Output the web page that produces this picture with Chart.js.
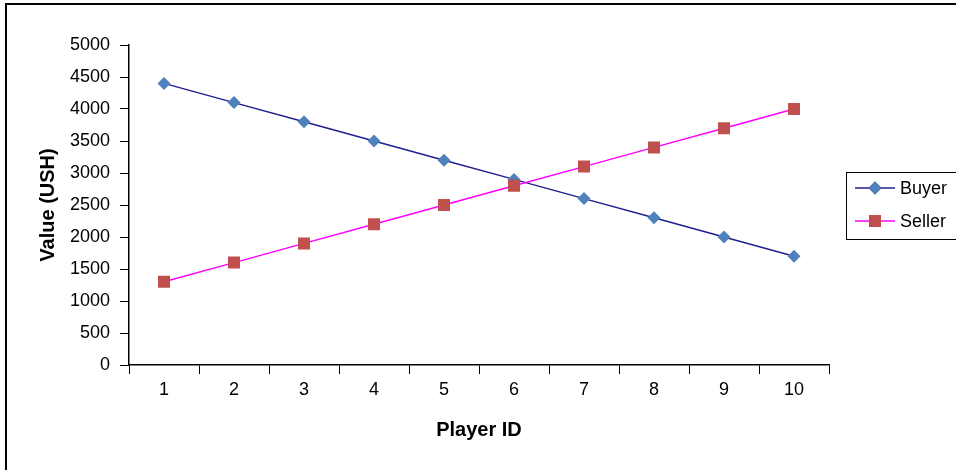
<!DOCTYPE html>
<html>
<head>
<meta charset="utf-8">
<script src="https://cdn.jsdelivr.net/npm/chart.js@4/dist/chart.umd.min.js"></script>
<style>
  html, body { margin: 0; padding: 0; background: #fff; }
  #wrap { width: 956px; height: 470px; }
</style>
</head>
<body>
<div id="wrap"><canvas id="grafico" width="956" height="470"></canvas></div>
<script>
const jugadores = ["1", "2", "3", "4", "5", "6", "7", "8", "9", "10"];
const comprador = [4400, 4100, 3800, 3500, 3200, 2900, 2600, 2300, 2000, 1700];
const vendedor = [1300, 1600, 1900, 2200, 2500, 2800, 3100, 3400, 3700, 4000];
const nombresSeries = ["Buyer", "Seller"];
const tituloY = "Value (USH)";
const tituloX = "Player ID";

const fuente = "'Liberation Sans', Arial, sans-serif";

// marco y leyenda al estilo Excel
const marcoLeyenda = {
  id: "marcoLeyenda",
  beforeDraw(chart) {
    const ctx = chart.ctx;
    ctx.save();
    ctx.fillStyle = "#fff";
    ctx.fillRect(0, 0, chart.width, chart.height);
    ctx.strokeStyle = "#000";
    ctx.lineWidth = 2;
    ctx.beginPath();
    ctx.moveTo(6, chart.height);
    ctx.lineTo(6, 4);
    ctx.lineTo(chart.width, 4);
    ctx.stroke();
    ctx.restore();
  },
  afterDraw(chart) {
    const ctx = chart.ctx;
    ctx.save();
    ctx.strokeStyle = "#000";
    ctx.lineWidth = 1;
    ctx.strokeRect(846.5, 172.5, 120, 67);
    ctx.font = "18px " + fuente;
    ctx.textBaseline = "middle";
    chart.data.datasets.slice().sort((a, b) => a.legendIdx - b.legendIdx).forEach((ds, i) => {
      const y = 188 + i * 33;
      ctx.strokeStyle = ds.borderColor;
      ctx.lineWidth = 1.5;
      ctx.beginPath();
      ctx.moveTo(855, y);
      ctx.lineTo(895, y);
      ctx.stroke();
      Chart.helpers.drawPoint(ctx, {
        pointStyle: ds.pointStyle,
        radius: ds.pointRadius,
        rotation: 0,
        borderWidth: 0
      }, 875, y);
      ctx.fillStyle = ds.pointBackgroundColor;
      ctx.fill();
      ctx.fillStyle = "#000";
      ctx.fillText(ds.label, 900, y + 1);
    });
    ctx.restore();
  }
};

new Chart(document.getElementById("grafico"), {
  type: "line",
  data: {
    labels: jugadores,
    datasets: [
      {
        label: nombresSeries[1],
        legendIdx: 1,
        order: 0,
        data: vendedor,
        borderColor: "#ff00ff",
        borderWidth: 1.5,
        pointStyle: "rect",
        pointRadius: 8.5,
        pointBackgroundColor: "#c0504d",
        pointBorderWidth: 0,
        tension: 0
      },
      {
        label: nombresSeries[0],
        legendIdx: 0,
        order: 1,
        data: comprador,
        borderColor: "#1f1f8f",
        borderWidth: 1.5,
        pointStyle: "rectRot",
        pointRadius: 6.5,
        pointBackgroundColor: "#4f81bd",
        pointBorderWidth: 0,
        tension: 0
      }
    ]
  },
  options: {
    responsive: false,
    animation: false,
    layout: { padding: { top: 45, right: 127, bottom: 0, left: 0 } },
    plugins: {
      legend: { display: false },
      tooltip: { enabled: false }
    },
    scales: {
      x: {
        offset: true,
        grid: {
          offset: true,
          drawOnChartArea: false,
          drawTicks: true,
          tickLength: 9,
          color: "#000"
        },
        border: { display: true, color: "#000", width: 1.5 },
        ticks: {
          color: "#000",
          padding: 5,
          maxRotation: 0,
          font: { family: fuente, size: 18 }
        },
        title: {
          display: true,
          text: tituloX,
          color: "#000",
          font: { family: fuente, size: 20, weight: "bold" },
          padding: { top: 0, bottom: 28 }
        },
        afterFit(scale) { scale.height = 105; }
      },
      y: {
        min: 0,
        max: 5000,
        ticks: {
          stepSize: 500,
          color: "#000",
          padding: 10,
          font: { family: fuente, size: 18 },
          callback: (v) => String(v)
        },
        grid: {
          drawOnChartArea: false,
          drawTicks: true,
          tickLength: 9,
          color: "#000"
        },
        border: { display: true, color: "#000", width: 1.5 },
        title: {
          display: true,
          text: tituloY,
          color: "#000",
          font: { family: fuente, size: 20, weight: "bold" },
          padding: { top: 36, bottom: 0 }
        },
        afterFit(scale) { scale.width = 129; }
      }
    }
  },
  plugins: [marcoLeyenda]
});
</script>
</body>
</html>
